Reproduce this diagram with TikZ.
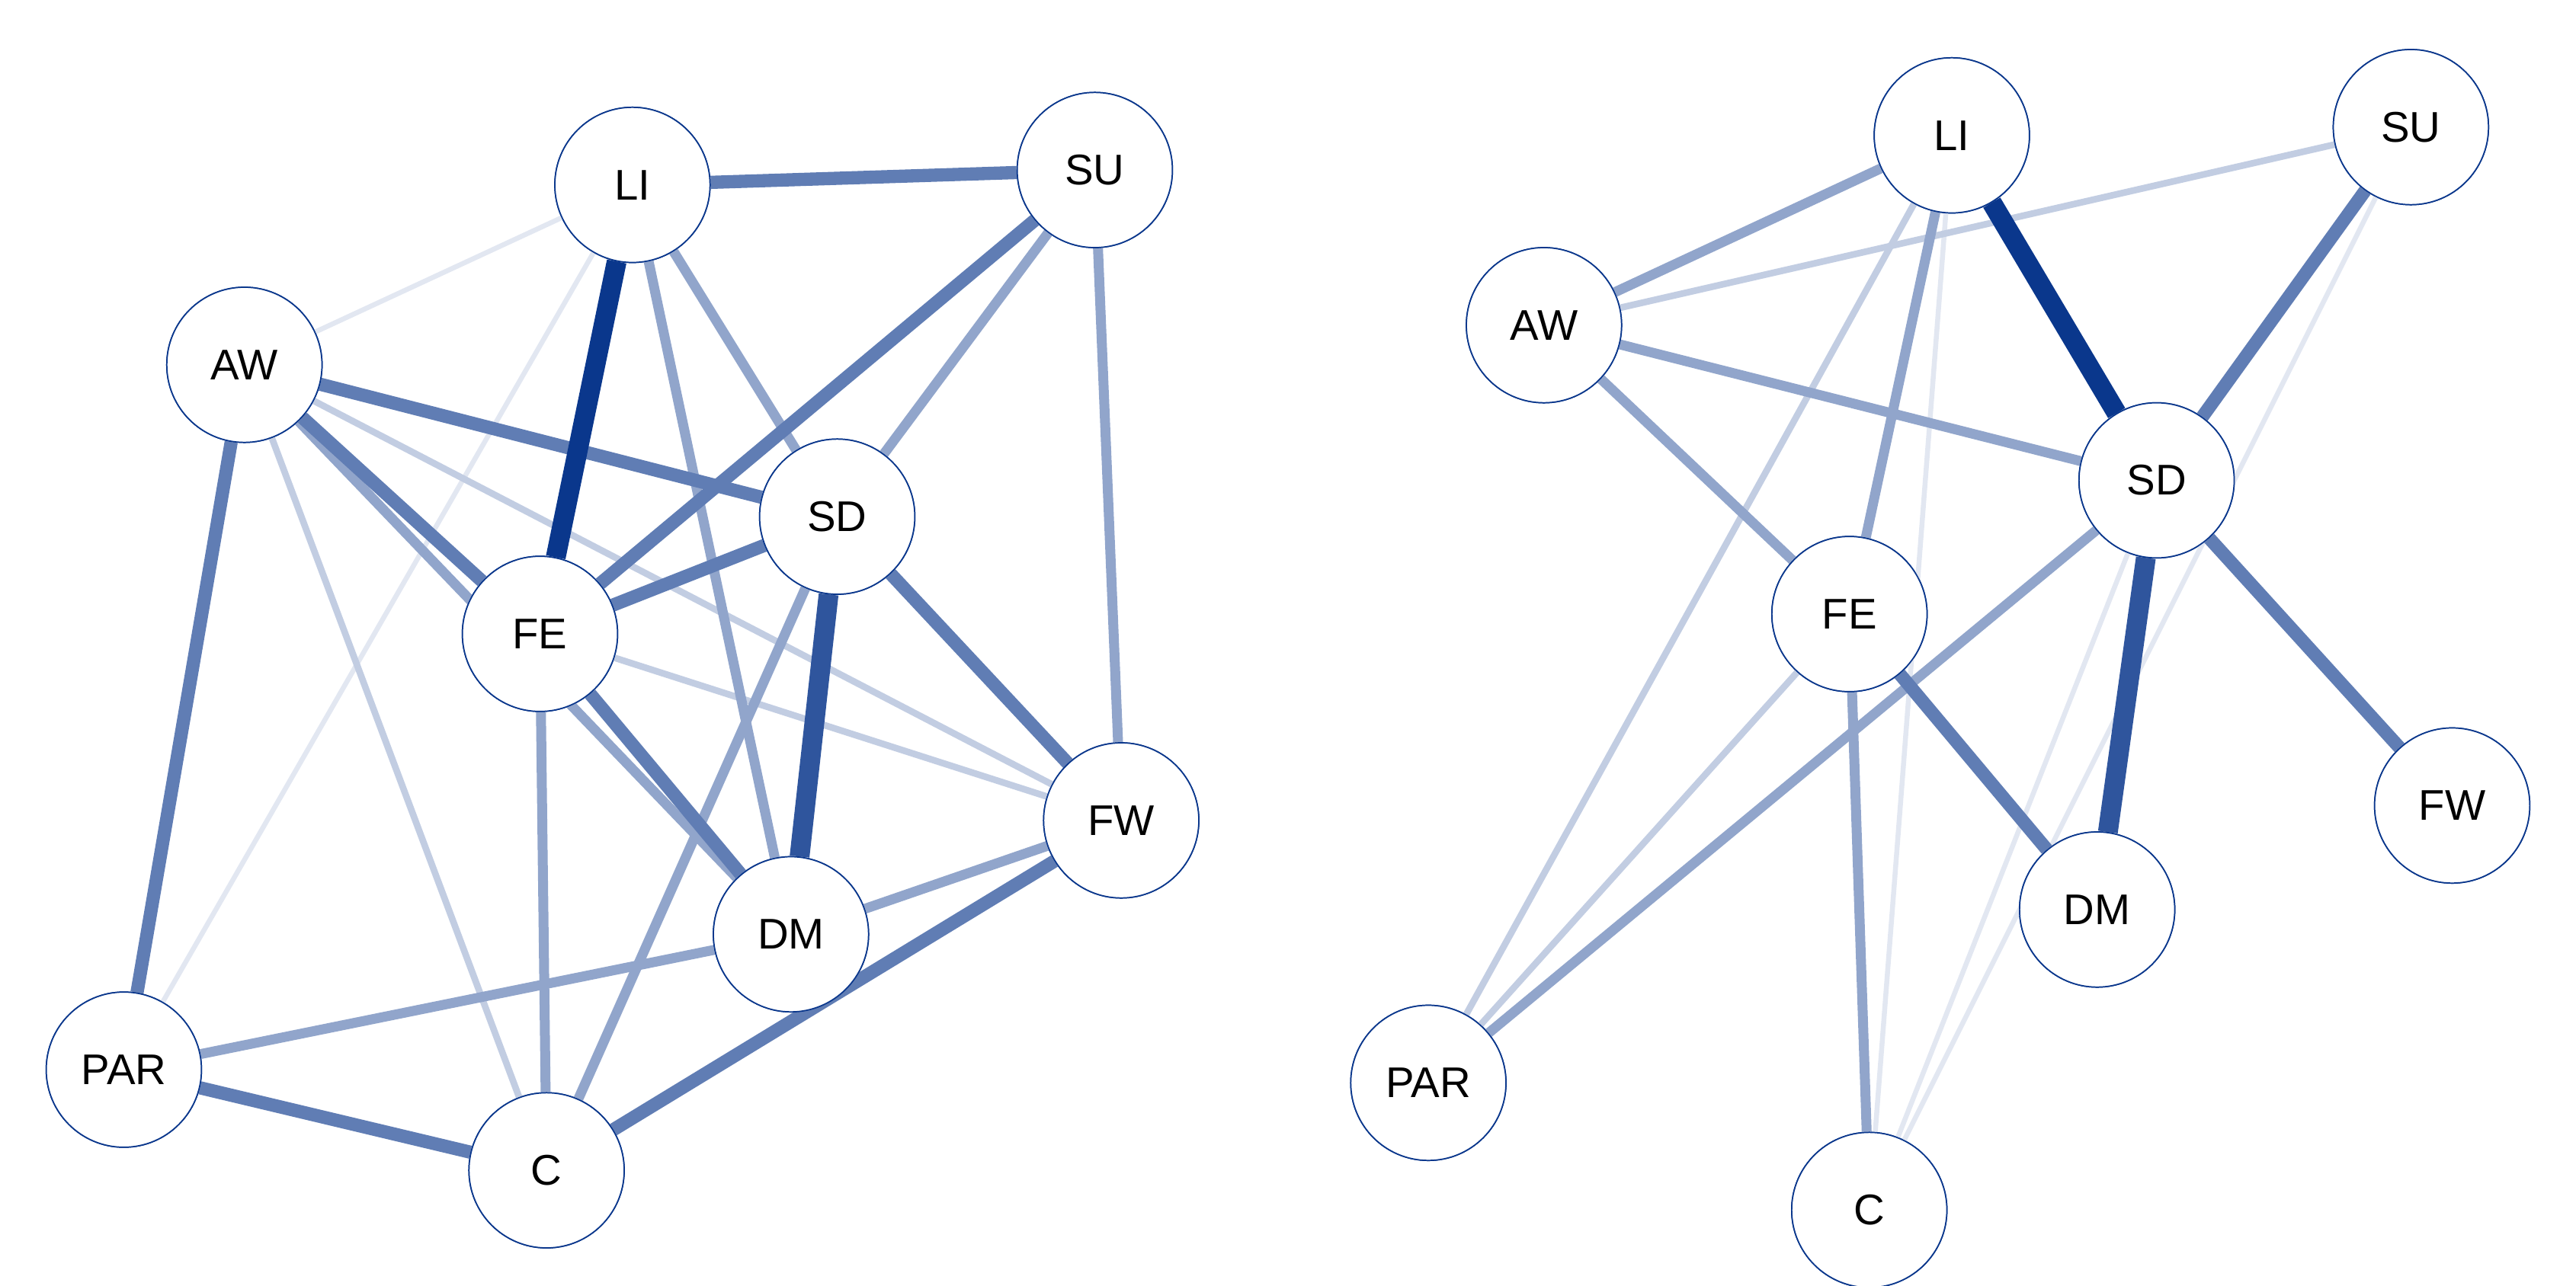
\documentclass[tikz,border=0pt]{standalone}
\usepackage{fontspec}
\setmainfont{Liberation Sans}
\definecolor{edark}{RGB}{10,55,140}
\begin{document}
\begin{tikzpicture}[x=1pt,y=1pt,yscale=-1,
  nd/.style={circle,draw=edark,line width=0.8,fill=white,minimum size=94pt,inner sep=0pt,font=\fontsize{26}{26}\selectfont},
  ea/.style={edark,line width=12},
  eb/.style={edark!65,line width=8},
  ec/.style={edark!45,line width=6},
  ed/.style={edark!25,line width=4},
  ee/.style={edark!12,line width=3}]
\useasboundingbox (0,0) rectangle (1560,779);

% left network
\node[nd] (LI) at (383,112) {LI};
\node[nd] (SU) at (663,103) {SU};
\node[nd] (AW) at (148,221) {AW};
\node[nd] (SD) at (507,313) {SD};
\node[nd] (FE) at (327,384) {FE};
\node[nd] (FW) at (679,497) {FW};
\node[nd] (DM) at (479,566) {DM};
\node[nd] (PAR) at (75,648) {PAR};
\node[nd] (C) at (331,709) {C};

\draw[ee] (LI) -- (AW);
\draw[ee] (LI) -- (PAR);
\draw[ed] (AW) -- (C);
\draw[ed] (AW) -- (FW);
\draw[ed] (FE) -- (FW);
\draw[ec] (AW) -- (DM);
\draw[ec] (DM) -- (FW);
\draw[ec] (SD) -- (C);
\draw[ec] (SU) -- (SD);
\draw[ec] (SU) -- (FW);
\draw[ec] (FE) -- (C);
\draw[ec] (LI) -- (SD);
\draw[ec] (LI) -- (DM);
\draw[ec] (DM) -- (PAR);
\draw[eb] (LI) -- (SU);
\draw[eb] (AW) -- (SD);
\draw[eb] (FE) -- (SD);
\draw[eb] (SD) -- (FW);
\draw[eb] (AW) -- (PAR);
\draw[eb] (FW) -- (C);
\draw[eb] (AW) -- (FE);
\draw[eb] (FE) -- (DM);
\draw[eb] (SU) -- (FE);
\draw[eb] (PAR) -- (C);
\draw[ea] (LI) -- (FE);
\draw[ea,edark!85] (SD) -- (DM);
\foreach \n in {LI,SU,AW,SD,FE,FW,DM,PAR,C}
  \node[nd] at (\n) {\n};

% right network
\node[nd] (rLI) at (1182,82) {LI};
\node[nd] (rSU) at (1460,77) {SU};
\node[nd] (rAW) at (935,197) {AW};
\node[nd] (rSD) at (1306,291) {SD};
\node[nd] (rFE) at (1120,372) {FE};
\node[nd] (rFW) at (1485,488) {FW};
\node[nd] (rDM) at (1270,551) {DM};
\node[nd] (rPAR) at (865,656) {PAR};
\node[nd] (rC) at (1132,733) {C};

\draw[ee] (rLI) -- (rC);
\draw[ee] (rSU) -- (rC);
\draw[ee] (rSD) -- (rC);
\draw[ee] (rSD) -- (rFW);
\draw[ed] (rSU) -- (rAW);
\draw[ed] (rFE) -- (rPAR);
\draw[ed] (rLI) -- (rPAR);
\draw[ec] (rLI) -- (rAW);
\draw[ec] (rAW) -- (rFE);
\draw[ec] (rSD) -- (rPAR);
\draw[ec] (rFE) -- (rC);
\draw[ec] (rLI) -- (rFE);
\draw[ec] (rAW) -- (rSD);
\draw[eb] (rSD) -- (rFW);
\draw[eb] (rSU) -- (rSD);
\draw[eb] (rFE) -- (rDM);
\draw[ea,edark!85] (rSD) -- (rDM);
\draw[ea] (rLI) -- (rSD);
\foreach \n in {LI,SU,AW,SD,FE,FW,DM,PAR,C}
  \node[nd] at (r\n) {\n};
\end{tikzpicture}
\end{document}
